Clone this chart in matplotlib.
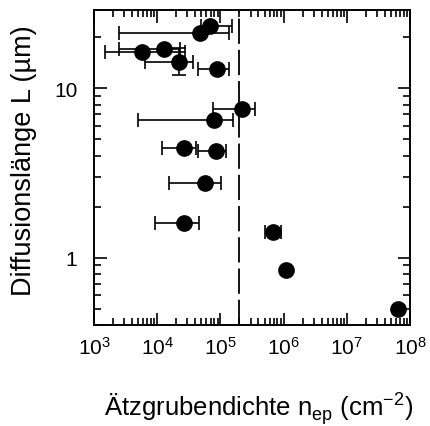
import matplotlib
matplotlib.use("Agg")
import matplotlib.pyplot as plt
import numpy as np
from matplotlib.ticker import LogLocator, FixedLocator, NullFormatter

plt.rcParams['font.family'] = ['Liberation Sans', 'DejaVu Sans']
plt.rcParams['mathtext.fontset'] = 'custom'
plt.rcParams['mathtext.rm'] = 'Liberation Sans'

# etch pit density (cm^-2) and diffusion length (um)
n_ep   = [67600, 48200, 5710, 12600, 21800, 88700, 221000, 80300,
          26800, 86500, 57800, 26100, 676000, 1.08e6, 6.38e7]
L_diff = [23.4, 21.3, 16.3, 17.1, 14.3, 13.0, 7.54, 6.49,
          4.43, 4.24, 2.74, 1.61, 1.41, 0.841, 0.499]
# lower / upper limits of the etch pit density
n_lo = [48500, 2520, 1500, 2520, 6450, 44300, 76600, 4940,
        11900, 43600, 15100, 9290, 505000, 1.08e6, 6.38e7]
n_hi = [155000, 135000, 27800, 23200, 36300, 135000, 359000, 157000,
        41100, 123000, 103000, 45300, 896000, 1.08e6, 6.38e7]
# lower / upper limits of the diffusion length
L_lo = [23.4, 21.3, 16.3, 17.1, 11.9, 13.0, 7.54, 6.49,
        4.43, 4.24, 2.74, 1.61, 1.41, 0.841, 0.499]
L_hi = [23.4, 21.3, 16.3, 17.1, 17.2, 13.0, 7.54, 6.49,
        4.43, 4.24, 2.74, 1.61, 1.41, 0.841, 0.499]

critical_density = 2.0e5

fig = plt.figure(figsize=(4.30, 4.27), dpi=100)
ax = fig.add_axes([0.2186, 0.2365, 0.7349, 0.7382])

x = np.array(n_ep)
y = np.array(L_diff)
xerr = [x - np.array(n_lo), np.array(n_hi) - x]
yerr = [y - np.array(L_lo), np.array(L_hi) - y]

ax.axvline(critical_density, color='black', lw=1.3, dashes=(14, 3.3), zorder=1)

ax.errorbar(x, y, xerr=xerr, yerr=yerr, fmt='o', color='black',
            ms=11, elinewidth=1.2, capsize=5, capthick=1.2, zorder=3)

ax.set_xscale('log')
ax.set_yscale('log')
ax.set_xlim(1e3, 1e8)
ax.set_ylim(0.4, 29)

ax.xaxis.set_major_locator(LogLocator(base=10, numticks=10))
ax.xaxis.set_minor_locator(LogLocator(base=10, subs=np.arange(2, 10), numticks=20))
ax.xaxis.set_minor_formatter(NullFormatter())
ax.yaxis.set_major_locator(FixedLocator([1, 10]))
ax.set_yticklabels(['1', '10'])
ax.yaxis.set_minor_locator(LogLocator(base=10, subs=np.arange(2, 10), numticks=20))
ax.yaxis.set_minor_formatter(NullFormatter())

ax.tick_params(which='both', direction='in', top=True, right=True,
               labelsize=15, width=1.2)
ax.tick_params(axis='x', which='both', pad=8)
ax.tick_params(axis='y', which='both', pad=12)
ax.tick_params(which='major', length=9)
ax.tick_params(which='minor', length=5)
for sp in ax.spines.values():
    sp.set_linewidth(1.4)

ax.set_xlabel(r'Ätzgrubendichte n$_\mathregular{ep}$ (cm$^\mathregular{-2}$)',
              fontsize=18.5)
ax.xaxis.set_label_coords(0.522, -0.203)
ax.set_ylabel('Diffusionslänge L (µm)', fontsize=19.5)
ax.yaxis.set_label_coords(-0.18, 0.523)

fig.savefig('out.png', dpi=100)
